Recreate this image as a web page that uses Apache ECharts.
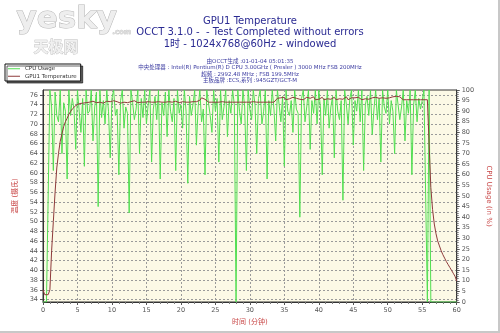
<!DOCTYPE html>
<html>
<head>
<meta charset="utf-8">
<script src="https://cdn.jsdelivr.net/npm/echarts@6/dist/echarts.min.js"></script>
<style>
  html, body { margin: 0; padding: 0; background: #fff; }
  #wrap { position: relative; width: 500px; height: 333px; }
  #chart { width: 500px; height: 333px; }
  #frame { position: absolute; left: 0; top: 0; width: 500px; height: 333px; box-sizing: border-box;
           border-right: 2px solid #c8c8c8; border-bottom: 2px solid #c8c8c8; pointer-events: none; }
</style>
</head>
<body>
<div id="wrap"><div id="chart"></div><div id="frame"></div></div>
<script>
// Sampling step of the log, in minutes
const SAMPLE_MIN = 0.25;

// CPU usage (%) per sample, 0 .. 60 min
const cpuUsage = [
  0,0,0,0, 100,92,62,99, 88,85,100,70, 94,90,58,100, 88,96,91,72,
  100,90,80,96, 64,100,89,90, 100,76,92,99, 45,100,87,95, 84,100,90,68,
  96,100,88,91, 60,95,100,82, 92,89,42,100, 94,86,91,100, 70,96,87,100,
  84,93,100,66, 91,97,86,100, 58,94,88,99, 78,100,90,85, 96,62,100,89,
  93,82,100,90, 56,97,88,93, 100,74,92,100, 85,91,60,100, 94,88,80,100,
  90,96,66,100, 86,92,100,78, 95,89,100,93, 0,100,90,84, 100,92,62,100,
  91,86,100,93, 70,96,100,84, 90,100,58,95, 88,100,91,76, 100,93,85,97,
  64,100,90,88, 95,80,100,91, 89,40,96,100, 85,92,100,72, 95,89,100,84,
  100,91,60,96, 88,100,82,92, 97,68,100,90, 86,95,48,100, 93,84,96,100,
  74,95,90,100, 85,100,62,93, 97,88,100,79, 91,100,86,96, 66,100,92,89,
  100,84,95,90, 70,100,93,86, 92,100,76,95, 89,100,60,93, 100,85,96,91,
  95,100,100,0, 100,0,0,0, 0,0,0,0, 0,0,0,0, 0,0,0,0,
  0
];

// GPU1 temperature (°C) per sample, 0 .. 60 min
const gpuTemp = [
  36,35,35,35, 36,44,50,56, 61,64,66.5,68, 69.5,70.5,71.2,72, 72.6,73.1,73.5,73.8,
  74,74.2,74.4,74.3, 74.6,74.4,74.8,74.5, 74.3,74.7,74.5,74.4, 74.8,74.5,74.6,74.3, 74.5,74.7,74.4,74.6,
  74.5,74.8,74.4,74.6, 74.5,74.3,74.6,74.5, 74.7,74.4,74.5,74.6, 74.5,74.8,74.5,74.4, 74.6,74.5,74.7,74.5,
  74.4,74.6,74.5,74.5, 74.7,74.5,74.4,74.6, 74.5,74.5,74.8,74.5, 74.4,74.6,74.5,74.5, 74.5,74.7,74.5,74.4,
  74.5,74.6,74.5,74.5, 74.6,74.5,74.4,74.6, 74.5,74.6,74.5,74.9, 75.4,75.7,75.1,74.7, 74.5,74.6,74.5,74.5,
  74.5,74.6,74.5,74.5, 74.6,74.5,74.5,74.5, 74.5,74.5,74.5,74.5, 74.5,74.5,74.5,74.5, 74.5,74.5,74.5,74.5,
  74.5,74.5,74.6,74.5, 74.5,74.5,74.5,74.5, 74.5,74.6,74.5,74.5, 74.5,74.5,74.5,74.8, 75.3,74.9,75.4,75.1,
  75.5,75.0,75.4,75.2, 74.9,75.5,75.1,75.3, 75.6,75.1,75.3,75.0, 75.4,75.5,75.1,75.3, 75.2,75.6,75.0,75.4,
  75.1,75.3,75.5,75.0, 75.4,75.2,75.6,75.1, 75.3,75.5,75.0,75.4, 75.2,75.5,75.1,75.3, 75.6,75.0,75.2,75.4,
  75.2,75.4,75.1,75.5, 75.3,75.0,75.4,75.2, 75.5,75.1,75.3,75.4, 75.0,75.5,75.2,75.3, 75.1,75.4,75.2,75.3,
  75.2,75.4,75.1,75.6, 76.0,75.7,75.3,75.6, 75.2,75.0,75.0,75.0, 75.0,75.0,75.0,75.0, 75.0,75.0,75.0,75.0,
  75.0,75.0,75.0,75.0, 75.0,57,52.5,49.5, 47.5,46,45,44, 43.2,42.5,41.8,41.2, 40.6,40,39.4,38.8,
  37.8
];

// Axis tick labels
const tempTicks = [34,36,38,40,42,44,46,48,50,52,54,56,58,60,62,64,66,68,70,72,74,76];
const seriesNames = ['CPU Usage', 'GPU1 Temperature'];

// Header text
const headerLines = [
  'GPU1 Temperature',
  'OCCT 3.1.0 -  - Test Completed without errors',
  '1时 - 1024x768@60Hz - windowed'
];
const infoLines = [
  '由OCCT生成 :01-01-04 05:01:35',
  '中央处理器 : Intel(R) Pentium(R) D CPU 3.00GHz ( Presler ) 3000 MHz FSB 200MHz',
  '超频 : 2992.48 MHz ; FSB 199.5MHz',
  '主板品牌 :ECS,系列 :945GZT/GCT-M'
];

const FONT = '"DejaVu Sans", "Noto Sans CJK SC", sans-serif';
const toPairs = arr => arr.map((v, i) => [i * SAMPLE_MIN, v]);

const chart = echarts.init(document.getElementById('chart'), null, { renderer: 'canvas' });

const headerTops = [16, 27, 39];
const infoTops = [58.5, 65, 71.5, 78];
const titles = headerLines.map((t, i) => ({
  text: t, left: 'center', top: headerTops[i], padding: 0,
  textStyle: { fontFamily: FONT, fontSize: 10, fontWeight: 'normal', color: '#2a2a92' }
})).concat(infoLines.map((t, i) => ({
  text: t, left: 'center', top: infoTops[i], padding: 0,
  textStyle: { fontFamily: FONT, fontSize: 5.5, fontWeight: 'normal', color: '#3a3aa0' }
})));

chart.setOption({
  animation: false,
  backgroundColor: '#ffffff',
  textStyle: { fontFamily: FONT },
  title: titles,
  graphic: [
    { type: 'text', left: 16, top: 4, z: 0,
      style: { text: 'yesky', font: 'bold 31px "DejaVu Sans", sans-serif', fill: '#eeeeee', stroke: '#b4b4b4', lineWidth: 1 } },
    { type: 'text', left: 112, top: 28, z: 0,
      style: { text: '.com', font: 'bold 7px "DejaVu Sans", sans-serif', fill: '#dcdcdc', stroke: '#b4b4b4', lineWidth: 0.5 } },
    { type: 'text', left: 33, top: 38, z: 0,
      style: { text: '天极网', font: 'bold 15px "Noto Sans CJK SC", sans-serif', fill: '#f0f0f0', stroke: '#bcbcbc', lineWidth: 0.8 } }
  ],
  legend: {
    data: seriesNames,
    orient: 'vertical',
    left: 5, top: 64,
    icon: 'rect', itemWidth: 12, itemHeight: 1, itemGap: 2,
    padding: [2, 4, 2, 3],
    backgroundColor: '#ffffff',
    borderColor: '#111', borderWidth: 1, borderRadius: 0,
    shadowColor: 'rgba(0,0,0,0.6)', shadowOffsetX: 2, shadowOffsetY: 2, shadowBlur: 0,
    textStyle: { fontSize: 5.5, color: '#333' }
  },
  grid: {
    left: 43, right: 39, top: 90, bottom: 31,
    show: true, backgroundColor: '#fcf9e6', borderColor: '#333', borderWidth: 1
  },
  xAxis: {
    type: 'value', min: 0, max: 60, interval: 5,
    name: '时间 (分钟)', nameLocation: 'middle', nameGap: 15,
    nameTextStyle: { color: '#c84545', fontSize: 7 },
    axisLine: { lineStyle: { color: '#333' } },
    axisTick: { length: 3, lineStyle: { color: '#555' } },
    minorTick: { show: true, splitNumber: 5, length: 2, lineStyle: { color: '#777' } },
    axisLabel: { fontSize: 6.5, color: '#555', margin: 5 },
    splitLine: { show: true, lineStyle: { color: '#9a9a9a', type: [2, 2], width: 1 } }
  },
  yAxis: [
    {
      type: 'value', position: 'left', min: 33.5, max: 77,
      name: '温度 (摄氏)', nameLocation: 'middle', nameGap: 22, nameRotate: 90,
      nameTextStyle: { color: '#c84545', fontSize: 7 },
      axisLine: { show: true, lineStyle: { color: '#333' } },
      axisTick: { show: true, length: 3, customValues: tempTicks, lineStyle: { color: '#555' } },
      axisLabel: { fontSize: 6.5, color: '#555', margin: 5, customValues: tempTicks },
      splitLine: { show: true, lineStyle: { color: '#9a9a9a', type: [2, 2], width: 1 } }
    },
    {
      type: 'value', position: 'right', min: 0, max: 100, interval: 5,
      name: 'CPU Usage (in %)', nameLocation: 'middle', nameGap: 17, nameRotate: -90,
      nameTextStyle: { color: '#c84545', fontSize: 7 },
      axisLine: { show: true, lineStyle: { color: '#333' } },
      axisTick: { show: true, length: 3, lineStyle: { color: '#555' } },
      minorTick: { show: true, splitNumber: 5, length: 2, lineStyle: { color: '#777' } },
      axisLabel: { fontSize: 6.5, color: '#555', margin: 5 },
      splitLine: { show: false }
    }
  ],
  series: [
    {
      name: seriesNames[0], type: 'line', yAxisIndex: 1,
      data: toPairs(cpuUsage), showSymbol: false, symbol: 'none',
      lineStyle: { color: '#52de52', width: 1 }, itemStyle: { color: '#52de52' }, z: 2
    },
    {
      name: seriesNames[1], type: 'line', yAxisIndex: 0,
      data: toPairs(gpuTemp), showSymbol: false, symbol: 'none',
      lineStyle: { color: '#8e3b3b', width: 1 }, itemStyle: { color: '#8e3b3b' }, z: 3
    }
  ]
});
</script>
</body>
</html>
